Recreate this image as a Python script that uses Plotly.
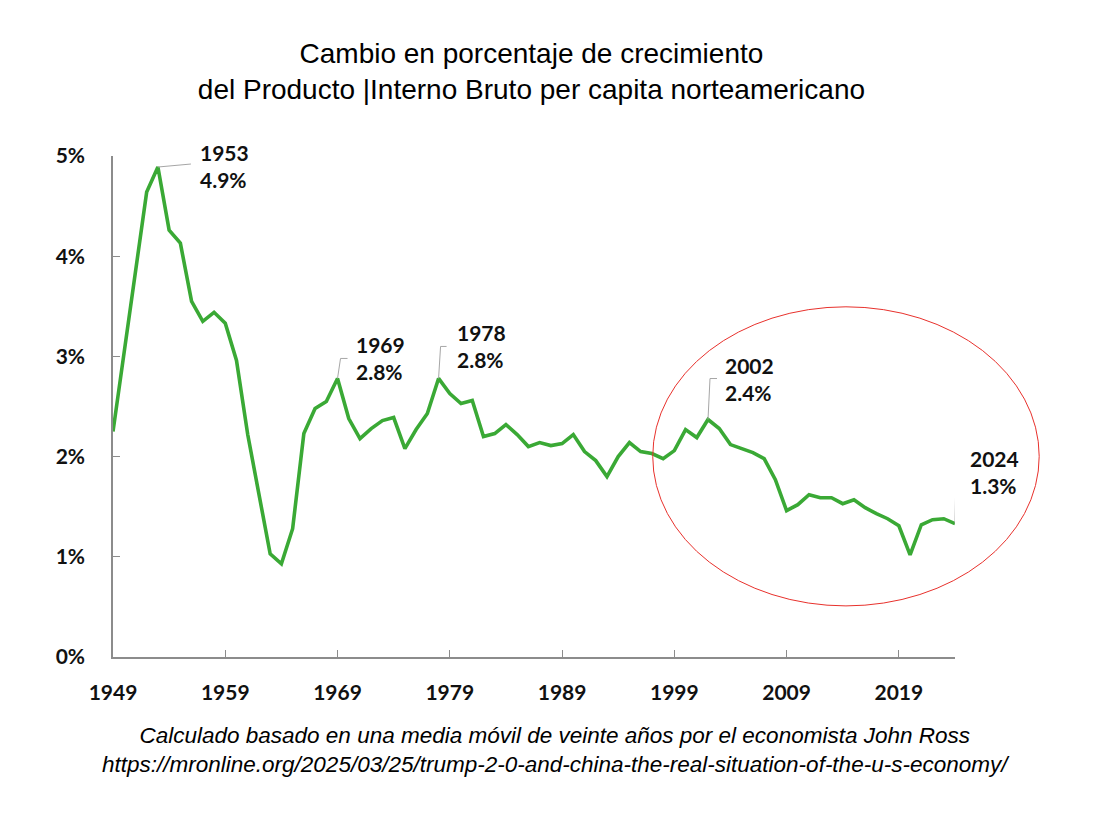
import plotly.graph_objects as go

# 20-year moving average of US GDP per capita growth (%)
years = list(range(1949, 2025))
growth = [
    2.25, 3.06, 3.85, 4.64, 4.89, 4.26, 4.13, 3.55, 3.35, 3.44,  # 1949-1958
    3.33, 2.96, 2.22, 1.60, 1.03, 0.93, 1.28, 2.23, 2.48, 2.55,  # 1959-1968
    2.78, 2.38, 2.18, 2.28, 2.36, 2.39, 2.08, 2.27, 2.43, 2.78,  # 1969-1978
    2.63, 2.53, 2.56, 2.20, 2.23, 2.32, 2.22, 2.10, 2.14, 2.11,  # 1979-1988
    2.13, 2.22, 2.05, 1.96, 1.80, 2.00, 2.14, 2.05, 2.03, 1.98,  # 1989-1998
    2.06, 2.27, 2.19, 2.37, 2.28, 2.12, 2.08, 2.04, 1.98, 1.77,  # 1999-2008
    1.46, 1.52, 1.62, 1.59, 1.59, 1.53, 1.57, 1.49, 1.43, 1.38,  # 2009-2018
    1.31, 1.02, 1.32, 1.37, 1.38, 1.33,                          # 2019-2024
]
x_ticks = [1949, 1959, 1969, 1979, 1989, 1999, 2009, 2019]
y_ticks = [0, 1, 2, 3, 4, 5]
y_ticktext = ["0%", "1%", "2%", "3%", "4%", "5%"]

label_years = [1953, 1969, 1978, 2002, 2024]
label_values = ["4.9%", "2.8%", "2.8%", "2.4%", "1.3%"]

# leader line bends (pixels) and text shifts per label
leader_paths = {
    1953: "M0,0 L33,3",
    1969: "M0,0 L3,20 L10,20",
    1978: "M0,0 L2,32 L8,32",
    2002: "M0,0 L2,41 L9,41",
    2024: "M0,0 L1,52 L7,52",
}
text_shift = {1953: (40, 1), 1969: (16, 20), 1978: (16, 32), 2002: (15, 41), 2024: (13, 52)}

line_col = "#3aa935"
axis_col = "#8c8c8c"
lead_col = "#a6a6a6"
bold_font = dict(family="Lato", size=21, color="#111111", weight="bold")

fig = go.Figure()
fig.add_trace(go.Scatter(
    x=years, y=growth, mode="lines",
    line=dict(color=line_col, width=3.6),
    hoverinfo="skip",
))

shapes = []
annotations = []
for yr, txt in zip(label_years, label_values):
    v = growth[years.index(yr)]
    shapes.append(dict(
        type="path", xref="x", yref="y",
        xsizemode="pixel", ysizemode="pixel", xanchor=yr, yanchor=v,
        path=leader_paths[yr],
        line=dict(color=lead_col, width=1),
    ))
    dx, dy = text_shift[yr]
    annotations.append(dict(
        x=yr, y=v, xref="x", yref="y", showarrow=False,
        text=f"{yr}<br>{txt}", align="left",
        xanchor="left", yanchor="middle", xshift=dx, yshift=dy,
        font=bold_font,
    ))

# red ellipse round the recent decades
shapes.append(dict(
    type="circle", xref="paper", yref="paper",
    x0=0.641, x1=1.100, y0=0.102, y1=0.699,
    line=dict(color="#e8312c", width=1),
))

annotations.append(dict(
    x=0.526, y=-0.186, xref="paper", yref="paper", showarrow=False,
    text=("<i>Calculado basado en una media móvil de veinte años por el economista John Ross</i><br>"
          "<i>https://mronline.org/2025/03/25/trump-2-0-and-china-the-real-situation-of-the-u-s-economy/</i>"),
    font=dict(family="Liberation Sans", size=22.5, color="black"),
    xanchor="center", yanchor="middle", align="center",
))

fig.update_layout(
    width=1102, height=826,
    margin=dict(l=105, r=155, t=148, b=177),
    paper_bgcolor="white", plot_bgcolor="white",
    showlegend=False,
    title=dict(
        text="Cambio en porcentaje de crecimiento<br>del Producto |Interno Bruto per capita norteamericano",
        x=0.475, xanchor="center", y=0.934, yanchor="top",
        font=dict(family="Liberation Sans", size=28, color="black"),
    ),
    xaxis=dict(
        range=[1949, 2024], tickvals=x_ticks, ticktext=[str(t) for t in x_ticks],
        showgrid=False, zeroline=False, showline=True,
        linecolor=axis_col, linewidth=1.5,
        ticks="inside", ticklen=7, tickcolor=axis_col, tickwidth=1,
        tickfont=bold_font, ticklabelstandoff=16,
    ),
    yaxis=dict(
        range=[0, 5], tickvals=y_ticks, ticktext=y_ticktext,
        showgrid=False, zeroline=False, showline=True,
        linecolor=axis_col, linewidth=1.5,
        ticks="inside", ticklen=7, tickcolor=axis_col, tickwidth=1,
        tickfont=bold_font, ticklabelstandoff=22,
    ),
    shapes=shapes,
    annotations=annotations,
)

fig.write_html("out.html")
